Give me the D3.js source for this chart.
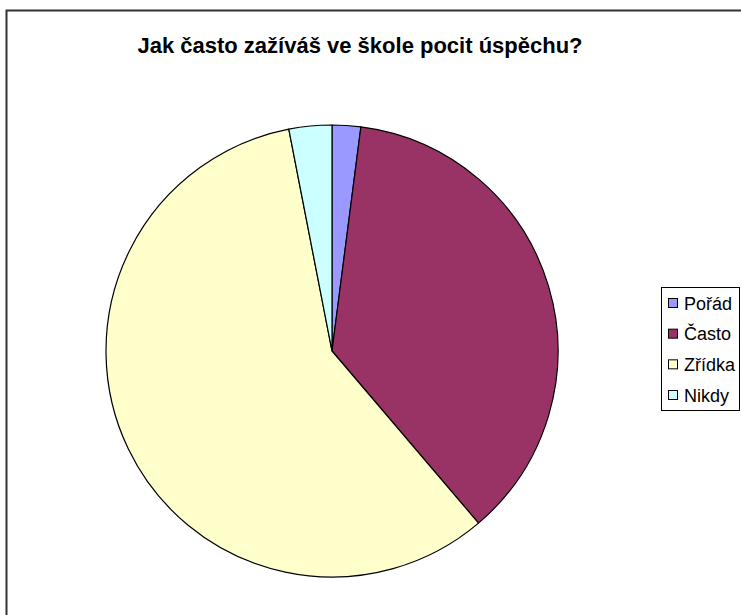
<!DOCTYPE html>
<html><head><meta charset="utf-8">
<script src="https://cdn.jsdelivr.net/npm/d3@7"></script>
<style>body{margin:0;background:#fff}svg{display:block}</style>
</head><body>
<svg id="c" width="741" height="615"></svg>
<script>
const title = "Jak často zažíváš ve škole pocit úspěchu?";
const categories = ["Pořád", "Často", "Zřídka", "Nikdy"];
const values = [2, 36, 57, 3];
const colors = ["#9999FF", "#993366", "#FFFFCC", "#CCFFFF"];

const svg = d3.select("#c");
svg.append("rect").attr("x", 6.5).attr("y", 10.5).attr("width", 760).attr("height", 640)
  .attr("fill", "#fff").attr("stroke", "#333").attr("stroke-width", 2);

svg.append("text").attr("x", 360).attr("y", 53).attr("text-anchor", "middle")
  .attr("font-family", "Liberation Sans, Arial, sans-serif").attr("font-weight", "bold")
  .attr("font-size", 22).text(title);

const cx = 332, cy = 351, r = 226;
const pie = d3.pie().sort(null).value(d => d)(values);
const arc = d3.arc().innerRadius(0).outerRadius(r);
const color = d3.scaleOrdinal().domain(categories).range(colors);
svg.append("g").attr("transform", `translate(${cx},${cy})`)
  .selectAll("path").data(pie).join("path")
  .attr("d", arc).attr("fill", (d, i) => color(categories[i]))
  .attr("stroke", "#000").attr("stroke-width", 1.2).attr("stroke-linejoin", "round");

const lg = svg.append("g");
lg.append("rect").attr("x", 661.5).attr("y", 287.5).attr("width", 78).attr("height", 123)
  .attr("fill", "#fff").attr("stroke", "#000").attr("stroke-width", 1);
const y = d3.scalePoint().domain(categories).range([303, 395]);
categories.forEach(c => {
  lg.append("rect").attr("x", 668.5).attr("y", y(c) - 4.5).attr("width", 9).attr("height", 9)
    .attr("fill", color(c)).attr("stroke", "#000").attr("stroke-width", 1);
  lg.append("text").attr("x", 684).attr("y", y(c) + 6.5)
    .attr("font-family", "Liberation Sans, Arial, sans-serif").attr("font-size", 18).text(c);
});
</script>
</body></html>
